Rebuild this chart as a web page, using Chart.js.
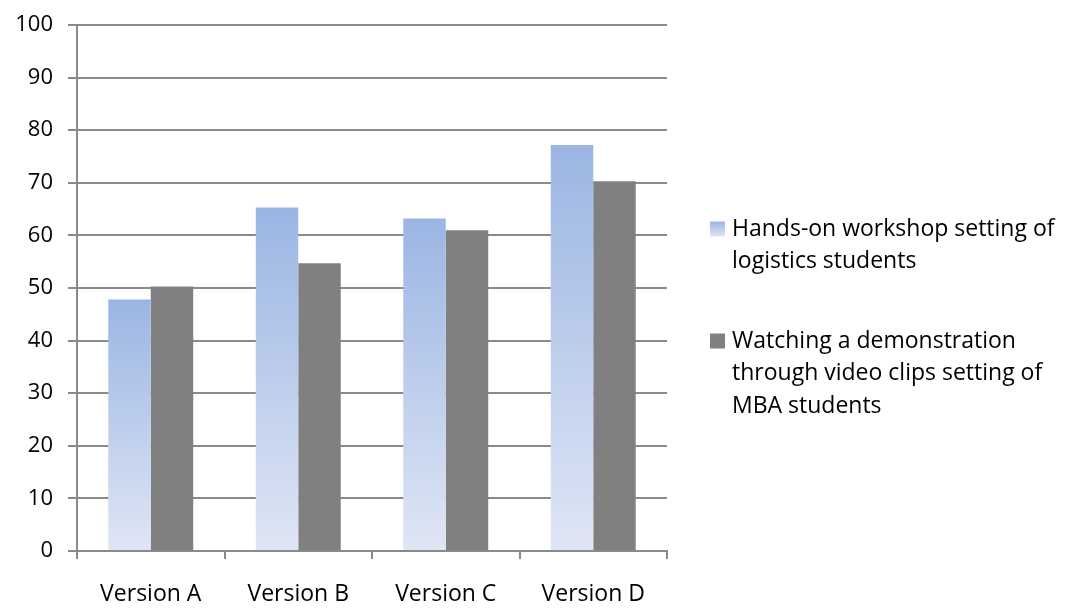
<!DOCTYPE html>
<html>
<head>
<meta charset="utf-8">
<script src="https://cdn.jsdelivr.net/npm/chart.js@4"></script>
<style>
  html, body { margin: 0; padding: 0; background: #fff; }
  #wrap { width: 1066px; height: 608px; }
</style>
</head>
<body>
<div id="wrap"><canvas id="barChart"></canvas></div>
<script>
const categories = ["Version A", "Version B", "Version C", "Version D"];
const handsOn = [47.8, 65.3, 63.2, 77.2];
const videoClips = [50.3, 54.7, 61.0, 70.3];
const seriesNames = [
  ["Hands-on workshop setting of", "logistics students"],
  ["Watching a demonstration", "through video clips setting of", "MBA students"],
];
const yTicks = [0, 10, 20, 30, 40, 50, 60, 70, 80, 90, 100];

const FONT = "'Open Sans', sans-serif";
const BLUE_TOP = "#9BB5E3";
const BLUE_BOTTOM = "#DFE6F5";
const GRAY = "#808080";
const GRID = "#8a8a8a";

function blueGradient(ctx, top, bottom) {
  const g = ctx.createLinearGradient(0, top, 0, bottom);
  g.addColorStop(0, BLUE_TOP);
  g.addColorStop(1, BLUE_BOTTOM);
  return g;
}

// legend drawn on the right, text wrapped like the original
const sideLegend = {
  id: "sideLegend",
  afterDraw(chart) {
    const ctx = chart.ctx;
    const x = 710, size = 15, textX = 732, lineH = 32.5;
    const starts = [229, 341];
    const colors = [null, GRAY];
    ctx.save();
    ctx.font = "23px " + FONT;
    ctx.textBaseline = "middle";
    seriesNames.forEach((lines, i) => {
      const y0 = starts[i];
      const sy = y0 - size / 2;
      ctx.fillStyle = colors[i] || blueGradient(ctx, sy, sy + size);
      ctx.fillRect(x, sy, size, size);
      ctx.fillStyle = "#000";
      lines.forEach((t, j) => ctx.fillText(t, textX, y0 + j * lineH));
    });
    ctx.restore();
  },
};

new Chart(document.getElementById("barChart"), {
  type: "bar",
  data: {
    labels: categories,
    datasets: [
      {
        label: seriesNames[0].join(" "),
        data: handsOn,
        backgroundColor: (c) => {
          const chart = c.chart;
          if (!chart.chartArea || c.raw == null) return BLUE_TOP;
          const y = chart.scales.y;
          return blueGradient(chart.ctx, y.getPixelForValue(c.raw), y.getPixelForValue(0));
        },
        categoryPercentage: 0.576,
        barPercentage: 1,
      },
      {
        label: seriesNames[1].join(" "),
        data: videoClips,
        backgroundColor: GRAY,
        categoryPercentage: 0.576,
        barPercentage: 1,
      },
    ],
  },
  options: {
    responsive: true,
    maintainAspectRatio: false,
    animation: false,
    layout: { padding: { top: 25, right: 399, left: 0, bottom: 0 } },
    plugins: {
      legend: { display: false },
      tooltip: { enabled: false },
    },
    scales: {
      y: {
        min: 0,
        max: 100,
        afterBuildTicks: (axis) => {
          axis.ticks = yTicks.map((value) => ({ value }));
        },
        afterFit: (scale) => {
          scale.width = 77;
          scale.paddingTop = 0;
          scale.paddingBottom = 0;
        },
        border: { color: GRID, width: 2 },
        grid: { color: GRID, lineWidth: 2, tickLength: 9 },
        ticks: {
          font: { family: FONT, size: 22 },
          color: "#000",
          padding: 15,
        },
      },
      x: {
        afterFit: (scale) => { scale.height = 57; },
        border: { color: GRID, width: 2 },
        grid: { drawOnChartArea: false, color: GRID, lineWidth: 2, tickLength: 8 },
        ticks: {
          font: { family: FONT, size: 23 },
          color: "#000",
          padding: 22,
        },
      },
    },
  },
  plugins: [sideLegend],
});
</script>
</body>
</html>
